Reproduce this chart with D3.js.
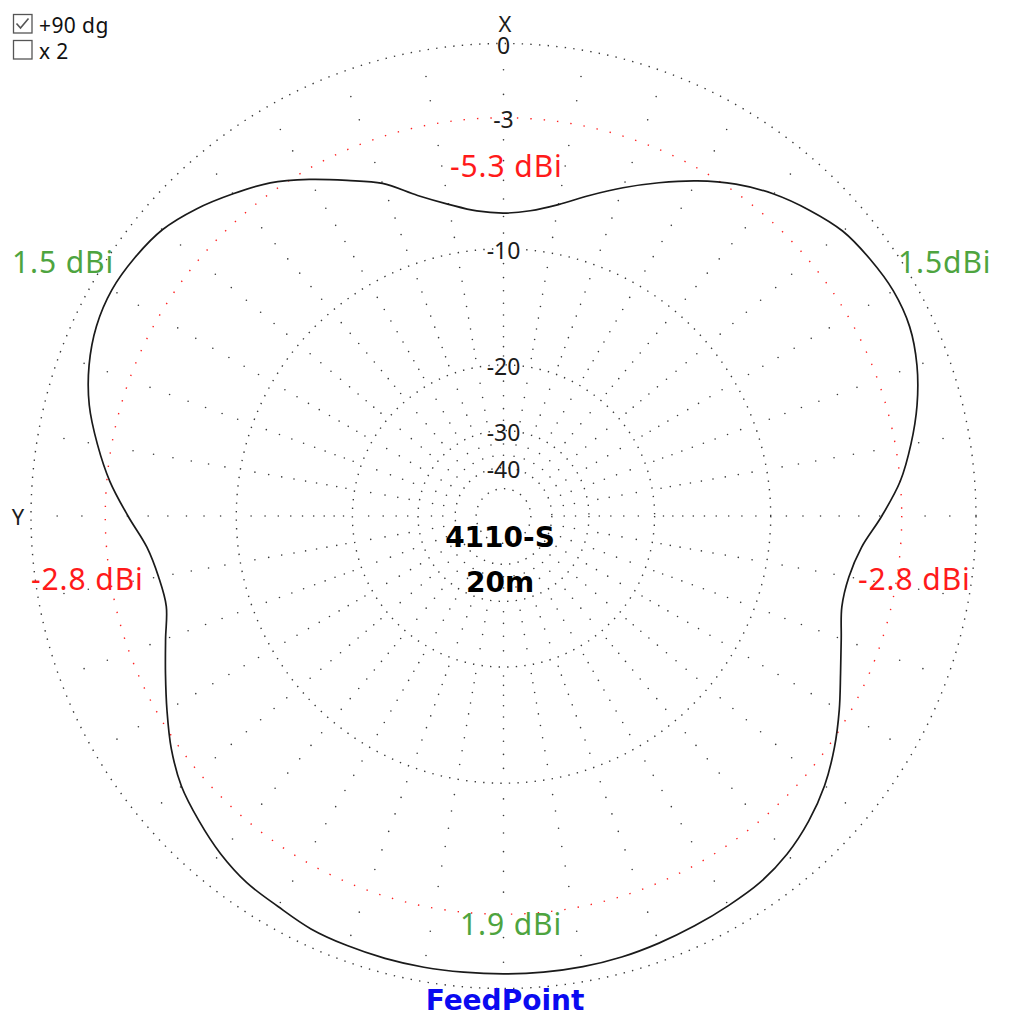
<!DOCTYPE html>
<html>
<head>
<meta charset="utf-8">
<script src="https://cdn.jsdelivr.net/npm/d3@7"></script>
<style>
  html, body { margin: 0; padding: 0; background: #fff; }
  svg { display: block; }
</style>
</head>
<body>
<svg id="chart" width="1021" height="1024"></svg>
<script>
// ---- data ----
// azimuth angles (deg, clockwise from X / top)
const azimuths = [0,5,10,15,20,25,30,35,40,45,50,55,60,65,70,75,80,85,
  90,95,100,105,110,115,120,125,130,135,140,145,150,155,160,165,170,175,
  180,185,190,195,200,205,210,215,220,225,230,235,240,245,250,255,260,265,
  270,275,280,285,290,295,300,305,310,315,320,325,330,335,340,345,350,355];
// gain in dBi at each azimuth
const gainDbi = [-5.35,-5.15,-4.60,-3.75,-2.85,-1.95,-1.05,-0.25,0.40,0.90,1.32,1.50,1.60,1.52,1.20,0.72,0.12,-0.55,
  -1.45,-2.35,-2.78,-2.80,-2.35,-1.75,-1.02,-0.30,0.35,0.86,1.25,1.49,1.59,1.68,1.77,1.85,1.89,1.90,
  1.90,1.90,1.91,1.90,1.87,1.81,1.63,1.50,1.22,0.83,0.40,-0.23,-0.98,-1.70,-2.34,-2.86,-2.80,-2.42,
  -1.58,-0.69,0.06,0.75,1.24,1.56,1.68,1.60,1.41,0.97,0.41,-0.18,-0.98,-1.83,-2.62,-3.75,-4.58,-5.16];
// grid rings (dB) and their labels
const ringLevels = [0, -3, -10, -20, -30, -40, -50];
const ringLabels = ["0", "-3", "-10", "-20", "-30", "-40"];
const radialAngles = [0,10,20,30,40,50,60,70,80,90,100,110,120,130,140,150,160,170,
  180,190,200,210,220,230,240,250,260,270,280,290,300,310,320,330,340,350];
// gain annotations
const annotations = [
  {text: "-5.3 dBi", color: "red"},
  {text: "1.5 dBi", color: "green"},
  {text: "1.5dBi", color: "green"},
  {text: "-2.8 dBi", color: "red"},
  {text: "-2.8 dBi", color: "red"},
  {text: "1.9 dBi", color: "green"}
];
const titleLines = ["4110-S", "20m"];
const footer = "FeedPoint";
const checkLabels = ["+90 dg", "x 2"];
const checkStates = [true, false];
const zeroRingDbi = 2.45; // gain (dBi) that sits on the 0 dB ring

// ---- layout ----
const cx = 503.5, cy = 516, R = 472.5, K = 0.057;
const svg = d3.select("#chart");
const GREEN = "#4ea43f", RED = "#ff1a1a", BLUE = "#0a0af0", GRID = "#3a3a3a";
const FONT = "'Noto Sans', 'Liberation Sans', Arial, sans-serif";
const BOLD = "'DejaVu Sans', sans-serif";

// log radial scale (ARRL-like): dB -> radius
const logR = d3.scaleLinear().domain([-50, 0]).range([Math.log(R) - 50 * K, Math.log(R)]);
const rOf = db => Math.exp(logR(db));

const g = svg.append("g").attr("transform", `translate(${cx},${cy})`);

// rings
g.selectAll("circle.ring").data(ringLevels).join("circle")
  .attr("class", "ring")
  .attr("r", d => rOf(d))
  .attr("fill", "none")
  .attr("stroke", d => d === -3 ? "#ff2020" : GRID)
  .attr("stroke-width", 1.4)
  .attr("stroke-dasharray", d => d === -3 ? "1.4 12" : "1.4 7.2");

// radial dotted lines: dots at dB steps
const dotLevels = [];
for (let d = 0; d >= -20; d -= 1) if (d !== 0 && d !== -3 && d !== -10 && d !== -20) dotLevels.push(d);
[-22, -24, -26, -28, -33, -36].forEach(d => dotLevels.push(d));
const radialDots = [];
radialAngles.forEach(a => dotLevels.forEach(db => radialDots.push({a, db})));
g.selectAll("circle.rdot").data(radialDots).join("circle")
  .attr("class", "rdot")
  .attr("cx", d => rOf(d.db) * Math.sin(d.a * Math.PI / 180))
  .attr("cy", d => -rOf(d.db) * Math.cos(d.a * Math.PI / 180))
  .attr("r", 0.8)
  .attr("fill", GRID);

// ring labels
g.selectAll("text.rl").data(ringLabels).join("text")
  .attr("class", "rl")
  .attr("x", 0)
  .attr("y", (d, i) => -rOf(ringLevels[i]) + 1)
  .attr("text-anchor", "middle")
  .attr("dominant-baseline", "central")
  .attr("font-family", FONT)
  .attr("font-size", 23)
  .attr("fill", "#1c1c1c")
  .text(d => d);

// axis labels
svg.append("text").attr("x", 505).attr("y", 23).attr("text-anchor", "middle")
  .attr("dominant-baseline", "central").attr("font-family", FONT).attr("font-size", 22)
  .attr("fill", "#1c1c1c").text("X");
svg.append("text").attr("x", 18).attr("y", 516).attr("text-anchor", "middle")
  .attr("dominant-baseline", "central").attr("font-family", FONT).attr("font-size", 22)
  .attr("fill", "#1c1c1c").text("Y");

// pattern
const pattern = azimuths.map((a, i) => ({a, gdb: gainDbi[i]}));
const line = d3.lineRadial()
  .angle(d => d.a * Math.PI / 180)
  .radius(d => rOf(d.gdb - zeroRingDbi))
  .curve(d3.curveCatmullRomClosed.alpha(0.5));
g.append("path").datum(pattern)
  .attr("d", line)
  .attr("fill", "none")
  .attr("stroke", "#1a1a1a")
  .attr("stroke-width", 1.7);

// annotations
const annPos = [
  {x: 450, y: 177, anchor: "start"},
  {x: 12, y: 273, anchor: "start"},
  {x: 898, y: 273, anchor: "start"},
  {x: 31, y: 590, anchor: "start"},
  {x: 858, y: 590, anchor: "start"},
  {x: 460, y: 935, anchor: "start"}
];
svg.selectAll("text.ann").data(annotations).join("text")
  .attr("class", "ann")
  .attr("x", (d, i) => annPos[i].x)
  .attr("y", (d, i) => annPos[i].y)
  .attr("text-anchor", (d, i) => annPos[i].anchor)
  .attr("font-family", FONT)
  .attr("font-size", 30)
  .attr("letter-spacing", 0.9)
  .attr("fill", d => d.color === "red" ? RED : GREEN)
  .text(d => d.text);

// title
svg.selectAll("text.title").data(titleLines).join("text")
  .attr("class", "title")
  .attr("x", 500)
  .attr("y", (d, i) => 547 + i * 45)
  .attr("text-anchor", "middle")
  .attr("font-family", BOLD)
  .attr("font-weight", "bold")
  .attr("font-size", 28)
  .attr("fill", "#000")
  .text(d => d);

svg.append("text").attr("x", 505).attr("y", 1010).attr("text-anchor", "middle")
  .attr("font-family", BOLD).attr("font-weight", "bold").attr("font-size", 28)
  .attr("fill", BLUE).text(footer);

// checkboxes
const cb = svg.selectAll("g.cb").data(checkLabels).join("g")
  .attr("class", "cb")
  .attr("transform", (d, i) => `translate(13,${14 + i * 26})`);
cb.append("rect").attr("x", 0.5).attr("y", 0.5).attr("width", 18.5).attr("height", 18.5)
  .attr("fill", "#fff").attr("stroke", "#555").attr("stroke-width", 1.3);
cb.filter((d, i) => checkStates[i]).append("polyline")
  .attr("points", "3.5,9.5 7.5,14 15.5,4.5")
  .attr("fill", "none").attr("stroke", "#555").attr("stroke-width", 1.6);
cb.append("text").attr("x", 26).attr("y", 18.5)
  .attr("font-family", FONT).attr("font-size", 21).attr("letter-spacing", 0.4)
  .attr("fill", "#111").text(d => d);
</script>
</body>
</html>
